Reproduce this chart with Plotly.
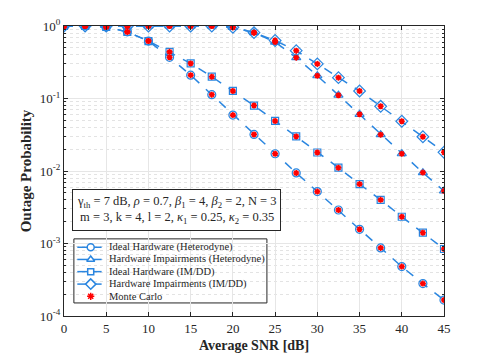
import plotly.graph_objects as go

snr = [0, 2.5, 5, 7.5, 10, 12.5, 15, 17.5, 20, 22.5, 25, 27.5, 30, 32.5, 35, 37.5, 40, 42.5, 45]

ideal_het = [1.0, 1.0, 0.97, 0.83, 0.62, 0.37, 0.21, 0.113, 0.059, 0.032, 0.0173, 0.0094,
             0.0052, 0.0029, 0.00157, 0.00087, 0.00048, 0.00028, 0.000166]
hwi_het = [1.0, 1.0, 1.0, 1.0, 1.0, 1.0, 1.0, 1.0, 0.96, 0.81, 0.60, 0.366,
           0.206, 0.111, 0.0605, 0.0317, 0.0173, 0.0095, 0.0053]
ideal_imdd = [1.0, 1.0, 0.97, 0.83, 0.62, 0.44, 0.305, 0.20, 0.127, 0.080, 0.049, 0.030,
              0.018, 0.0111, 0.0066, 0.0040, 0.00234, 0.00141, 0.00084]
hwi_imdd = [1.0, 1.0, 1.0, 1.0, 1.0, 1.0, 1.0, 1.0, 0.96, 0.81, 0.63, 0.457,
            0.30, 0.194, 0.127, 0.078, 0.0485, 0.0297, 0.0181]

series_names = ["Ideal Hardware (Heterodyne)", "Hardware Impairments (Heterodyne)",
                "Ideal Hardware (IM/DD)", "Hardware Impairments (IM/DD)"]
series_vals = [ideal_het, hwi_het, ideal_imdd, hwi_imdd]
symbols = ["circle-open", "triangle-up-open", "square-open", "diamond-open"]
mc_name = "Monte Carlo"

x_ticks = [0, 5, 10, 15, 20, 25, 30, 35, 40, 45]
y_ticks = [1e-4, 1e-3, 1e-2, 1e-1, 1]
y_tick_text = ["10<sup>-4</sup>", "10<sup>-3</sup>", "10<sup>-2</sup>", "10<sup>-1</sup>", "10<sup>0</sup>"]

BLUE = "#2a86e0"
DARK = "#262626"
FONT = "Liberation Serif"
MSIZE = {"circle-open": 8, "triangle-up-open": 8, "square-open": 7, "diamond-open": 9}

fig = go.Figure()
for name, vals, sym in zip(series_names, series_vals, symbols):
    fig.add_trace(go.Scatter(
        x=snr, y=vals, name=name, mode="lines+markers", showlegend=False,
        line=dict(color=BLUE, width=1.5, dash="dash"),
        marker=dict(symbol=sym, size=MSIZE[sym], color=BLUE, line=dict(color=BLUE, width=1.2)),
    ))
for vals in series_vals:
    fig.add_trace(go.Scatter(
        x=snr, y=vals, name=mc_name, mode="markers", showlegend=False,
        marker=dict(symbol="asterisk-open", size=5, color="red", line=dict(color="red", width=1.6)),
    ))

# ---- manual legend (layout only, paper-fraction coordinates on an overlay axis) ----
leg_x0, leg_x1, leg_y0, leg_y1 = 0.026, 0.534, 0.045, 0.266
item_y = [0.237, 0.195, 0.153, 0.110, 0.068]
line_x = [0.035, 0.0703, 0.099]
text_x = 0.113

fig.add_shape(type="rect", xref="paper", yref="paper", x0=leg_x0, x1=leg_x1, y0=leg_y0, y1=leg_y1,
              fillcolor="white", line=dict(color=DARK, width=1), layer="between")
for yy, sym in zip(item_y[:4], symbols):
    fig.add_trace(go.Scatter(
        x=[line_x[0], line_x[2]], y=[yy, yy], xaxis="x2", yaxis="y2", mode="lines",
        showlegend=False, hoverinfo="skip", line=dict(color=BLUE, width=1.5, dash="solid"),
    ))
    fig.add_trace(go.Scatter(
        x=[line_x[1]], y=[yy], xaxis="x2", yaxis="y2", mode="markers",
        showlegend=False, hoverinfo="skip",
        marker=dict(symbol=sym.replace("-open", ""), size=MSIZE[sym] - 1, color="white",
                    line=dict(color=BLUE, width=1.5)),
    ))
fig.add_trace(go.Scatter(
    x=[line_x[1]], y=[item_y[4]], xaxis="x2", yaxis="y2", mode="markers", showlegend=False,
    hoverinfo="skip",
    marker=dict(symbol="asterisk-open", size=6, color="red", line=dict(color="red", width=1.5)),
))
for yy, label in zip(item_y, series_names + [mc_name]):
    fig.add_annotation(x=text_x, y=yy, xref="paper", yref="paper", xanchor="left", yanchor="middle",
                       text=label, showarrow=False,
                       font=dict(family=FONT, size=10.5, color=DARK))

minor_vals = []
for e in range(-4, 0):
    for d in range(2, 10):
        minor_vals.append(d * 10 ** e)

# The page body has an 8px default margin, so the figure is sized to fit the window.
fig.update_layout(
    width=483, height=346,
    margin=dict(l=56, r=47, t=18, b=38, autoexpand=False),
    paper_bgcolor="white", plot_bgcolor="white",
    font=dict(family=FONT, size=13, color=DARK),
    showlegend=False,
    xaxis=dict(range=[0, 45], tickvals=x_ticks, ticks="inside", ticklen=4, tickcolor=DARK,
               showline=True, linecolor=DARK, linewidth=1, mirror="allticks",
               showgrid=True, gridcolor="#e6e6e6", gridwidth=1, zeroline=False,
               title=dict(text="<b>Average SNR [dB]</b>", font=dict(family=FONT, size=14), standoff=5),
               tickfont=dict(family=FONT, size=13)),
    yaxis=dict(type="log", range=[-4, 0], tickvals=y_ticks, ticktext=y_tick_text,
               ticks="inside", ticklen=4, tickcolor=DARK,
               showline=True, linecolor=DARK, linewidth=1, mirror="allticks",
               showgrid=True, gridcolor="#e6e6e6", gridwidth=1, zeroline=False,
               minor=dict(tickvals=minor_vals, showgrid=True, gridcolor="#e3e3e3",
                          griddash="dot", ticks="inside", ticklen=2, tickcolor=DARK),
               title=dict(text="<b>Outage Probability</b>", font=dict(family=FONT, size=15), standoff=4),
               tickfont=dict(family=FONT, size=13)),
    xaxis2=dict(overlaying="x", range=[0, 1], visible=False, fixedrange=True),
    yaxis2=dict(overlaying="y", range=[0, 1], visible=False, fixedrange=True),
)

fig.add_annotation(
    x=0.297, y=0.366, xref="paper", yref="paper", xanchor="center", yanchor="middle",
    text=("γ<sub>th</sub> = 7 dB, <i>ρ</i> = 0.7, <i>β</i><sub>1</sub> = 4, <i>β</i><sub>2</sub> = 2, N = 3<br>"
          "m = 3, k = 4, l = 2, <i>κ</i><sub>1</sub> = 0.25, <i>κ</i><sub>2</sub> = 0.35"),
    showarrow=False, align="center",
    font=dict(family=FONT, size=12.5, color=DARK),
    bgcolor="white", bordercolor=DARK, borderwidth=1, borderpad=4,
)

fig.write_html("out.html")
